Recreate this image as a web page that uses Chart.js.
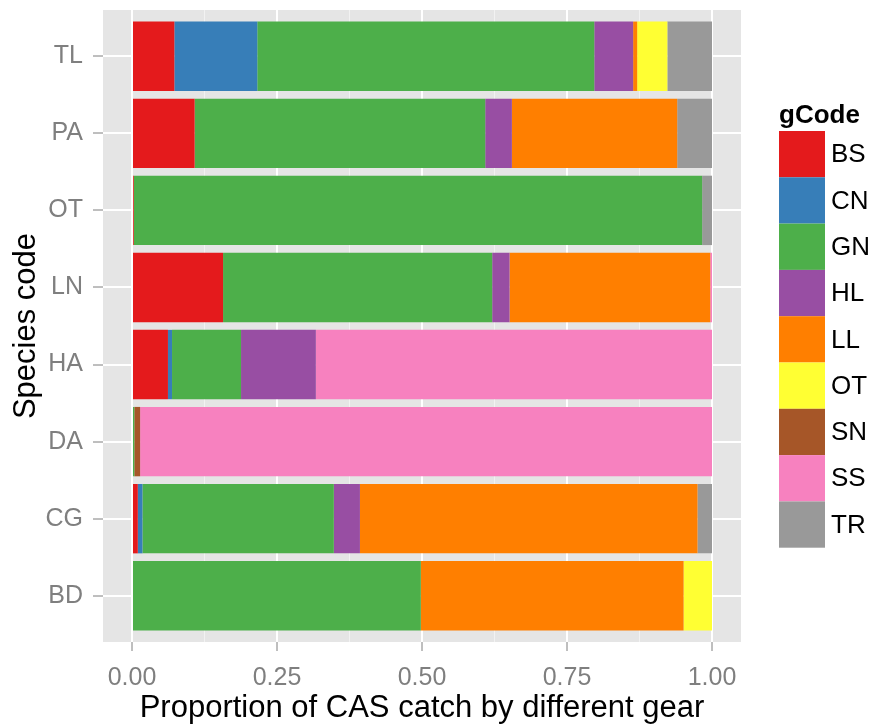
<!DOCTYPE html>
<html lang="en">
<head>
    <meta charset="UTF-8">
    <title>Proportion of CAS catch by different gear</title>
    <script src="https://cdn.jsdelivr.net/npm/chart.js"></script>
    <style>
        body {
            margin: 0;
            background: #ffffff;
        }
        #gearChart {
            display: block;
        }
    </style>
</head>
<body>
    <canvas id="gearChart" width="870" height="727"></canvas>

    <script>
        // species (top to bottom) and gear codes (left to right in each bar)
        const species = ['TL', 'PA', 'OT', 'LN', 'HA', 'DA', 'CG', 'BD'];
        const gearCodes = ['BS', 'CN', 'GN', 'HL', 'LL', 'OT', 'SN', 'SS', 'TR'];
        const gearColors = ['#E41A1C', '#377EB8', '#4DAF4A', '#984EA3', '#FF7F00', '#FFFF33', '#A65628', '#F781BF', '#999999'];

        // proportion of catch per gear, one value per species
        const BS = [0.073, 0.108, 0.003, 0.157, 0.062, 0,     0.010, 0];
        const CN = [0.143, 0,     0,     0,     0.007, 0,     0.008, 0];
        const GN = [0.581, 0.501, 0.980, 0.464, 0.119, 0.004, 0.330, 0.498];
        const HL = [0.067, 0.046, 0,     0.030, 0.129, 0,     0.045, 0];
        const LL = [0.007, 0.285, 0,     0.346, 0,     0,     0.582, 0.453];
        const OT = [0.052, 0,     0,     0,     0,     0,     0,     0.049];
        const SN = [0,     0,     0,     0,     0,     0.010, 0,     0];
        const SS = [0,     0,     0,     0.003, 0.683, 0.986, 0,     0];
        const TR = [0.077, 0.060, 0.017, 0,     0,     0,     0.025, 0];

        const xTicks = [0, 0.125, 0.25, 0.375, 0.5, 0.625, 0.75, 0.875, 1];

        const seriesValues = [BS, CN, GN, HL, LL, OT, SN, SS, TR];

        const FONT = "'Liberation Sans', Arial, sans-serif";
        Chart.defaults.font.family = FONT;

        const isMajor = v => Math.abs(v * 4 - Math.round(v * 4)) < 1e-6;

        // grey ggplot panel behind the grid
        const panelBackground = {
            id: 'panelBackground',
            beforeDraw(chart) {
                const {ctx, chartArea: a} = chart;
                ctx.save();
                ctx.fillStyle = '#E5E5E5';
                ctx.fillRect(a.left, a.top, a.right - a.left, a.bottom - a.top);
                ctx.restore();
            }
        };

        // legend drawn like the ggplot guide
        const gearLegend = {
            id: 'gearLegend',
            afterDraw(chart) {
                const ctx = chart.ctx;
                const x = 779, y0 = 131, keyW = 46, keyH = 46.3;
                ctx.save();
                ctx.fillStyle = '#000000';
                ctx.font = 'bold 26px ' + FONT;
                ctx.textAlign = 'left';
                ctx.textBaseline = 'alphabetic';
                ctx.fillText('gCode', x, 123);
                ctx.font = '26px ' + FONT;
                ctx.textBaseline = 'middle';
                chart.data.datasets.forEach((ds, i) => {
                    const y = y0 + i * keyH;
                    ctx.fillStyle = ds.backgroundColor;
                    ctx.fillRect(x, y, keyW, keyH);
                    ctx.fillStyle = '#000000';
                    ctx.fillText(ds.label, x + keyW + 6, y + keyH / 2 + 1);
                });
                ctx.restore();
            }
        };

        const datasets = gearCodes.map((code, g) => ({
            label: code,
            data: seriesValues[g].map((v, i) => ({x: v, y: i})),
            backgroundColor: gearColors[g],
            borderWidth: 0,
            categoryPercentage: 0.9,
            barPercentage: 1
        }));

        new Chart(document.getElementById('gearChart'), {
            type: 'bar',
            data: {datasets: datasets},
            plugins: [panelBackground, gearLegend],
            options: {
                indexAxis: 'y',
                responsive: false,
                animation: false,
                layout: {
                    padding: {top: 10, right: 129, left: 0, bottom: 0}
                },
                plugins: {
                    legend: {display: false},
                    tooltip: {enabled: false}
                },
                scales: {
                    x: {
                        type: 'linear',
                        stacked: true,
                        min: -0.05,
                        max: 1.05,
                        afterBuildTicks: scale => {
                            scale.ticks = xTicks.map(v => ({value: v}));
                        },
                        afterFit: scale => {
                            scale.height = 727 - 642;
                            scale.paddingLeft = 0;
                            scale.paddingRight = 0;
                        },
                        border: {display: false},
                        grid: {
                            color: c => isMajor(c.tick.value) ? '#FFFFFF' : '#F2F2F2',
                            lineWidth: c => isMajor(c.tick.value) ? 2 : 1,
                            tickColor: c => isMajor(c.tick.value) ? '#7F7F7F' : 'rgba(0,0,0,0)',
                            tickWidth: 1,
                            tickLength: 9
                        },
                        ticks: {
                            autoSkip: false,
                            maxRotation: 0,
                            padding: 12,
                            color: '#7F7F7F',
                            font: {size: 25},
                            callback: v => isMajor(v) ? v.toFixed(2) : ''
                        },
                        title: {
                            display: true,
                            text: 'Proportion of CAS catch by different gear',
                            color: '#000000',
                            font: {size: 31},
                            padding: {top: 0, bottom: 0}
                        }
                    },
                    y: {
                        type: 'linear',
                        stacked: true,
                        reverse: true,
                        offset: false,
                        min: -0.6,
                        max: species.length - 0.4,
                        afterBuildTicks: scale => {
                            scale.ticks = species.map((s, i) => ({value: i}));
                        },
                        afterFit: scale => {
                            scale.width = 103;
                            scale.paddingTop = 0;
                            scale.paddingBottom = 0;
                        },
                        border: {display: false},
                        grid: {
                            offset: false,
                            color: '#FFFFFF',
                            lineWidth: 2,
                            tickColor: '#7F7F7F',
                            tickWidth: 1,
                            tickLength: 10
                        },
                        ticks: {
                            autoSkip: false,
                            padding: 10,
                            color: '#7F7F7F',
                            font: {size: 25},
                            callback: v => species[v]
                        },
                        title: {
                            display: true,
                            text: 'Species code',
                            color: '#000000',
                            font: {size: 31},
                            padding: {top: 8, bottom: 0}
                        }
                    }
                }
            }
        });
    </script>
</body>
</html>
